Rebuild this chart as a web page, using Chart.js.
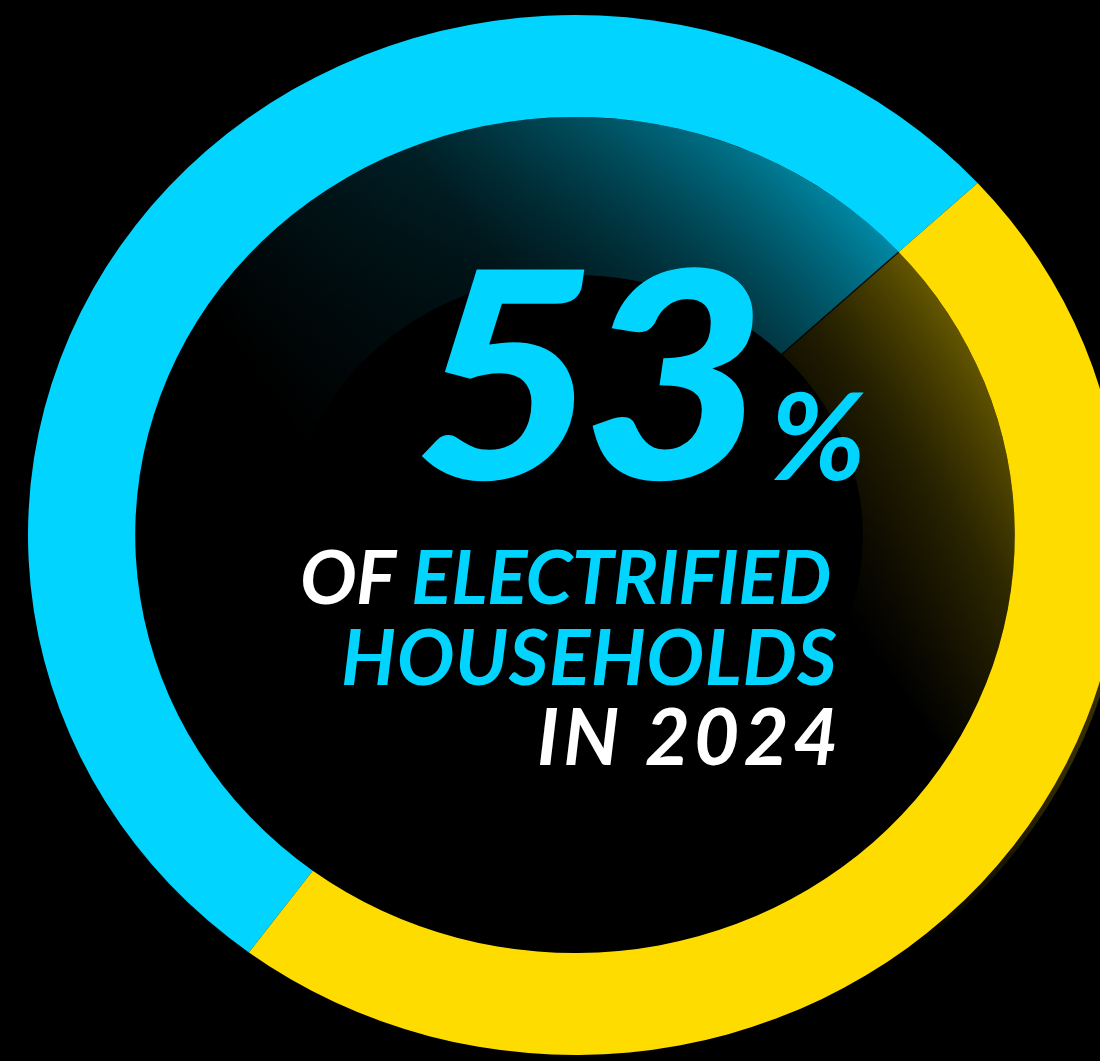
<!DOCTYPE html>
<html lang="en">
<head>
<meta charset="utf-8">
<title>53% of electrified households in 2024</title>
<script src="https://cdn.jsdelivr.net/npm/chart.js@4.4.1/dist/chart.umd.min.js"></script>
<style>
  html, body { margin: 0; padding: 0; background: #000; overflow: hidden; }
  canvas { display: block; }
</style>
</head>
<body>
<canvas id="ring" width="1100" height="1061"></canvas>
<script>
// Share of households, in percent
const categories = ['Electrified households', 'Remaining households'];
const shares = [53, 47];
const sliceColors = ['#00D4FF', '#FFDC00'];

// Centre headline and caption (text, colour)
const headlineValue = '53';
const headlineUnit = '%';
const captionLines = [
  [['OF ', '#FFFFFF'], ['ELECTRIFIED', '#00D4FF']],
  [['HOUSEHOLDS', '#00D4FF']],
  [['IN 2024', '#FFFFFF']]
];

const W = 1100, H = 1061;
// Elliptical ring placement on the canvas
const RING = { cx: 575, cy: 535, rx: 547, ry: 520 };
// Dark core inside the ring
const CORE = { cx: 576, cy: 536, rx: 287, ry: 261 };
const FONT = 'Lato, "Open Sans", "DejaVu Sans", sans-serif';

function ringScale(chart) {
  const arc = chart.getDatasetMeta(0).data[0];
  return { arc, sx: RING.rx / arc.outerRadius, sy: RING.ry / arc.outerRadius };
}

// Pie-shaped wedge between two canvas angles, on the ring's ellipse
function wedgePath(ctx, a0, a1) {
  ctx.beginPath();
  ctx.moveTo(RING.cx, RING.cy);
  const n = 120;
  for (let i = 0; i <= n; i++) {
    const t = a0 + (a1 - a0) * i / n;
    ctx.lineTo(RING.cx + RING.rx * 1.4 * Math.cos(t), RING.cy + RING.ry * 1.4 * Math.sin(t));
  }
  ctx.closePath();
}

function drawGlow(chart) {
  const ctx = chart.ctx;
  const { arc, sx, sy } = ringScale(chart);
  const meta = chart.getDatasetMeta(0);
  const first = meta.data[0], second = meta.data[1];
  const rxi = arc.innerRadius * sx, ryi = arc.innerRadius * sy;
  const split = first.endAngle;
  const bx = RING.cx + rxi * Math.cos(split);
  const by = RING.cy + ryi * Math.sin(split);
  const ux = 0.82, uy = -0.57;

  ctx.save();
  ctx.beginPath();
  ctx.ellipse(RING.cx, RING.cy, rxi, ryi, 0, 0, Math.PI * 2);
  ctx.ellipse(CORE.cx, CORE.cy, CORE.rx, CORE.ry, 0, 0, Math.PI * 2);
  ctx.clip('evenodd');

  // cyan reflection, strongest next to the split
  ctx.save();
  wedgePath(ctx, first.startAngle, first.endAngle);
  ctx.clip();
  let g = ctx.createLinearGradient(bx + 20 * ux, by + 20 * uy, bx - 600 * ux, by - 600 * uy);
  g.addColorStop(0, 'rgba(0,212,255,0.68)');
  g.addColorStop(0.32, 'rgba(0,212,255,0.38)');
  g.addColorStop(0.58, 'rgba(0,212,255,0.15)');
  g.addColorStop(1, 'rgba(0,212,255,0)');
  ctx.fillStyle = g;
  ctx.fillRect(0, 0, W, H);
  ctx.restore();

  // yellow reflection
  ctx.save();
  wedgePath(ctx, second.startAngle, second.endAngle);
  ctx.clip();
  g = ctx.createLinearGradient(bx + 40 * ux, by + 40 * uy, bx - 250 * ux, by - 250 * uy);
  g.addColorStop(0, 'rgba(255,220,0,0.46)');
  g.addColorStop(0.5, 'rgba(255,220,0,0.19)');
  g.addColorStop(1, 'rgba(255,220,0,0)');
  ctx.fillStyle = g;
  ctx.fillRect(0, 0, W, H);
  ctx.restore();

  // darker towards the core
  ctx.save();
  ctx.translate(CORE.cx, CORE.cy);
  ctx.scale(1, 0.93);
  const rg = ctx.createRadialGradient(0, 0, 285, 0, 0, 445);
  rg.addColorStop(0, 'rgba(0,0,0,0.36)');
  rg.addColorStop(1, 'rgba(0,0,0,0)');
  ctx.fillStyle = rg;
  ctx.fillRect(-700, -700, 1400, 1400);
  ctx.restore();

  // thin seam along the split
  ctx.beginPath();
  ctx.moveTo(bx, by);
  ctx.lineTo(RING.cx, RING.cy);
  ctx.strokeStyle = 'rgba(0,0,0,0.85)';
  ctx.lineWidth = 1.5;
  ctx.stroke();
  ctx.restore();
}

// Draws one line of runs sized to a cap height and spread between two x edges;
// hScale widens the glyphs, letter spacing takes up whatever is left
function fitLine(ctx, runs, weight, left, right, baseline, ascent, hScale) {
  const text = runs.map(r => r[0]).join('');
  ctx.letterSpacing = '0px';
  ctx.font = `italic ${weight} 100px ${FONT}`;
  const ref = ctx.measureText(text).actualBoundingBoxAscent;
  const size = 100 * ascent / ref;
  ctx.font = `italic ${weight} ${size}px ${FONT}`;
  const m = ctx.measureText(text);
  const ink = (m.actualBoundingBoxLeft + m.actualBoundingBoxRight) * hScale;
  const gap = text.length > 1 ? (right - left - ink) / (text.length - 1) / hScale : 0;
  ctx.letterSpacing = gap + 'px';
  ctx.textAlign = 'left';
  ctx.textBaseline = 'alphabetic';
  ctx.save();
  ctx.translate(left, 0);
  ctx.scale(hScale, 1);
  let x = m.actualBoundingBoxLeft;
  for (const [s, c] of runs) {
    ctx.fillStyle = c;
    ctx.fillText(s, x, baseline);
    x += ctx.measureText(s).width;
  }
  ctx.restore();
  ctx.letterSpacing = '0px';
}

function drawCaption(ctx) {
  ctx.save();
  fitLine(ctx, [[headlineValue, '#00D4FF']], 900, 418, 756, 479, 211, 1.1);
  fitLine(ctx, [[headlineUnit, '#00D4FF']], 700, 773, 865, 480, 88, 1.05);
  const rows = [
    { left: 303, right: 830, baseline: 604, ascent: 55 },
    { left: 343, right: 837, baseline: 685, ascent: 56 },
    { left: 540, right: 835, baseline: 765, ascent: 57 }
  ];
  captionLines.forEach((runs, i) => {
    const r = rows[i];
    fitLine(ctx, runs, 700, r.left, r.right, r.baseline, r.ascent, 1.0);
  });
  ctx.restore();
}

const ellipticRing = {
  id: 'ellipticRing',
  beforeDatasetsDraw(chart) {
    const ctx = chart.ctx;
    const { arc, sx, sy } = ringScale(chart);
    const rxi = arc.innerRadius * sx, ryi = arc.innerRadius * sy;
    // faint offset echo along the right edge of the ring
    ctx.save();
    ctx.beginPath();
    ctx.rect(880, 360, W - 880, 600);
    ctx.clip();
    const fade = ctx.createLinearGradient(0, 370, 0, 950);
    fade.addColorStop(0, 'rgba(255,220,0,0)');
    fade.addColorStop(0.15, 'rgba(255,220,0,0.24)');
    fade.addColorStop(0.7, 'rgba(255,220,0,0.2)');
    fade.addColorStop(1, 'rgba(255,220,0,0)');
    ctx.beginPath();
    ctx.ellipse(RING.cx + 4, RING.cy + 3, RING.rx, RING.ry, 0, 0, Math.PI * 2);
    ctx.ellipse(RING.cx + 4, RING.cy + 3, rxi, ryi, 0, 0, Math.PI * 2);
    ctx.fillStyle = fade;
    ctx.fill('evenodd');
    ctx.restore();
    // stretch the round doughnut into the ellipse
    ctx.save();
    ctx.translate(RING.cx, RING.cy);
    ctx.scale(sx, sy);
    ctx.translate(-arc.x, -arc.y);
  },
  afterDatasetsDraw(chart) {
    chart.ctx.restore();
    drawGlow(chart);
  },
  afterDraw(chart) {
    drawCaption(chart.ctx);
  }
};

function build() {
  new Chart(document.getElementById('ring'), {
    type: 'doughnut',
    data: {
      labels: categories,
      datasets: [{
        data: shares,
        backgroundColor: sliceColors,
        borderWidth: 0,
        hoverOffset: 0,
        offset: 0,
        clip: false
      }]
    },
    options: {
      responsive: false,
      animation: false,
      devicePixelRatio: 1,
      cutout: '80.4%',
      rotation: -143.4,
      events: [],
      layout: { padding: 0 },
      plugins: { legend: { display: false }, tooltip: { enabled: false } }
    },
    plugins: [ellipticRing]
  });
}

const ready = document.fonts
  ? Promise.all([
      document.fonts.load(`italic 900 100px ${FONT}`),
      document.fonts.load(`italic 700 100px ${FONT}`)
    ]).catch(() => {})
  : Promise.resolve();
ready.then(build);
</script>
</body>
</html>
